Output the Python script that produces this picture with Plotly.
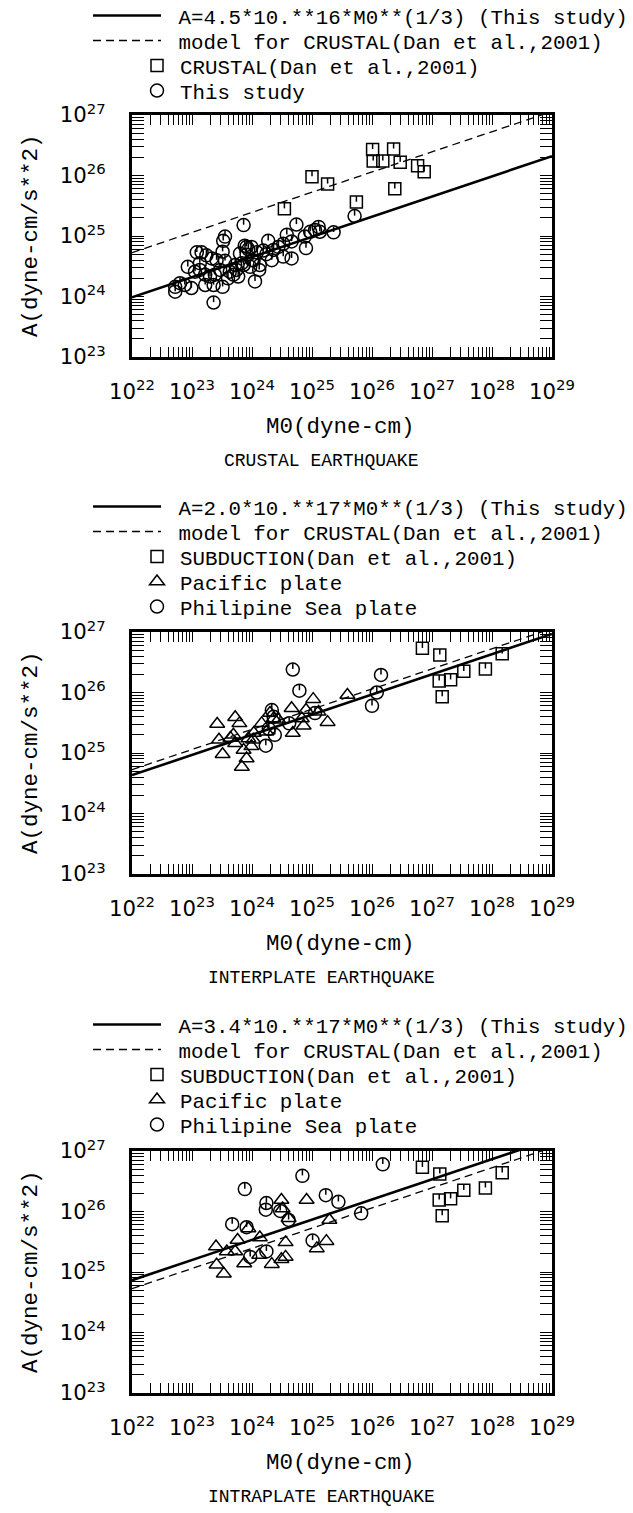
import numpy as np
import plotly.graph_objects as go

W, H = 633, 1513

# ---------------- data (log10 values) ----------------
# Panel 1 : CRUSTAL
crustal_dan_logM = [26.01, 26.36, 26.02, 26.18, 26.47, 26.76, 26.87, 25.00, 25.26, 26.38, 25.74, 24.54]
crustal_dan_logA = [26.43, 26.44, 26.24, 26.24, 26.22, 26.16, 26.06, 25.98, 25.86, 25.78, 25.56, 25.45]

crustal_this_logM = [23.86, 24.74, 25.71, 23.55, 23.52, 24.97, 25.05, 25.11, 25.13, 25.36, 24.58, 24.88,
                     24.27, 24.66, 23.51, 23.08, 23.16, 23.88, 23.94, 23.80, 23.91, 24.08, 24.19, 24.36,
                     24.44, 24.52, 24.24, 24.90, 23.24, 23.99, 22.93, 23.33, 23.41, 23.55, 24.02, 24.33,
                     24.52, 24.66, 23.86, 23.97, 23.83, 24.13, 23.13, 23.72, 23.05, 23.13, 23.22, 23.30,
                     23.38, 23.47, 23.74, 23.69, 23.77, 24.12, 23.63, 22.72, 22.80, 22.72, 22.99, 23.22,
                     23.36, 23.51, 24.05, 22.88, 23.36, 23.91, 24.00, 23.60]
crustal_this_logA = [25.18, 25.19, 25.33, 24.99, 24.92, 25.07, 25.10, 25.15, 25.07, 25.06, 25.02, 24.99,
                     24.92, 24.91, 24.74, 24.73, 24.73, 24.84, 24.78, 24.71, 24.69, 24.73, 24.76, 24.77,
                     24.82, 24.87, 24.70, 24.80, 24.68, 24.82, 24.49, 24.63, 24.60, 24.59, 24.60, 24.60,
                     24.66, 24.63, 24.52, 24.49, 24.55, 24.52, 24.55, 24.52, 24.41, 24.44, 24.36, 24.33,
                     24.36, 24.44, 24.44, 24.36, 24.33, 24.44, 24.41, 24.16, 24.22, 24.08, 24.14, 24.19,
                     24.19, 24.16, 24.25, 24.19, 23.90, 24.82, 24.60, 24.30]

# Subduction data of Dan et al. (2001) (panels 2 and 3)
subd_dan_logM = [26.84, 27.13, 27.12, 27.31, 27.53, 27.89, 27.17, 28.17]
subd_dan_logA = [26.73, 26.62, 26.19, 26.21, 26.35, 26.39, 25.93, 26.64]

# Panel 2 : INTERPLATE
inter_pac_logM = [23.42, 23.45, 23.51, 23.72, 23.79, 23.69, 23.72, 23.83, 23.91, 23.86, 23.94, 23.99,
                  24.03, 24.16, 24.24, 24.30, 24.36, 24.44, 24.66, 24.68, 24.86, 24.83, 24.90, 25.02,
                  25.11, 25.26, 25.59, 24.02, 23.64]
inter_pac_logA = [25.48, 25.22, 24.98, 25.59, 25.49, 25.30, 25.16, 24.77, 24.91, 25.05, 25.24, 25.11,
                  25.33, 25.49, 25.35, 25.66, 25.57, 25.55, 25.74, 25.33, 25.45, 25.57, 25.71, 25.89,
                  25.68, 25.51, 25.96, 25.22, 25.25]
inter_phs_logM = [24.68, 24.79, 26.15, 26.08, 26.00, 24.33, 24.62, 24.38, 24.23, 25.05, 24.36, 24.28]
inter_phs_logA = [26.38, 26.03, 26.29, 26.00, 25.78, 25.71, 25.49, 25.30, 25.12, 25.66, 25.60, 25.40]

# Panel 3 : INTRAPLATE
intra_pac_logM = [23.40, 23.41, 23.53, 23.58, 23.72, 23.76, 23.87, 23.94, 24.13, 24.12, 24.33, 24.49,
                  24.51, 24.61, 24.56, 24.56, 24.49, 24.91, 25.08, 25.24, 25.29]
intra_pac_logA = [25.42, 25.12, 24.97, 25.34, 25.34, 25.53, 25.14, 25.72, 25.57, 25.28, 25.13, 26.19,
                  26.05, 25.89, 25.49, 25.25, 25.21, 26.19, 25.39, 25.51, 25.86]
intra_phs_logM = [26.18, 24.84, 23.88, 25.23, 25.44, 24.24, 24.23, 24.47, 24.61, 23.67, 23.91, 25.82,
                  25.01, 24.24, 23.97]
intra_phs_logA = [26.78, 26.59, 26.37, 26.27, 26.16, 26.14, 26.03, 26.01, 25.86, 25.79, 25.74, 25.97,
                  25.52, 25.34, 25.25]

# Regression lines A = c * M0**(1/3)
coef_this = [4.5e16, 2.0e17, 3.4e17]
coef_dan = 2.46e17
m0_ends = [1e22, 1e29]

line_labels = ["A=4.5*10.**16*M0**(1/3) (This study)",
               "A=2.0*10.**17*M0**(1/3) (This study)",
               "A=3.4*10.**17*M0**(1/3) (This study)"]
dan_line_label = "model for CRUSTAL(Dan et al.,2001)"
captions = ["CRUSTAL EARTHQUAKE", "INTERPLATE EARTHQUAKE", "INTRAPLATE EARTHQUAKE"]
x_title = "M0(dyne-cm)"
y_title = "A(dyne-cm/s**2)"

# ---------------- layout geometry (pixels) ----------------
PX_L, PX_R = 132, 552
panels_px = [(115, 357), (632, 874), (1151, 1393)]   # (top, bottom)
legend_rows = [[16, 41, 66, 91], [507, 532, 557, 582, 607], [1025, 1050, 1075, 1100, 1125]]

MONO = "Liberation Mono"
LEG_FONT = dict(family=MONO, size=20.8, color="black")


def pow10(v):
    return [10.0 ** x for x in v]


fig = go.Figure()
layout_legends = {}
leg_count = [0]


def new_legend(row_px, kind):
    leg_count[0] += 1
    name = "legend" if leg_count[0] == 1 else f"legend{leg_count[0]}"
    if kind == "line":
        x_px, iw = 88, 68
    else:
        x_px, iw = 134, 36
    layout_legends[name] = dict(
        x=x_px / W, y=1 - row_px / H, xanchor="left", yanchor="middle",
        xref="container", yref="container",
        itemwidth=iw, bgcolor="rgba(0,0,0,0)", borderwidth=0,
        font=LEG_FONT, itemclick=False, itemdoubleclick=False,
        tracegroupgap=0,
    )
    return name


def add_line(p, coef, label, dash, width, row):
    ax = "" if p == 0 else str(p + 1)
    fig.add_trace(go.Scatter(
        x=m0_ends, y=[coef * m ** (1.0 / 3.0) for m in m0_ends],
        mode="lines", line=dict(color="black", width=width, dash=dash),
        name="\u00a0" + label, legend=new_legend(row, "line"),
        xaxis="x" + ax, yaxis="y" + ax, showlegend=True, hoverinfo="skip"))


def add_pts(p, lm, la, symbol, size, label, row, notch=True):
    ax = "" if p == 0 else str(p + 1)
    fig.add_trace(go.Scatter(
        x=pow10(lm), y=pow10(la), mode="markers",
        marker=dict(symbol=symbol, size=size, color="black",
                    line=dict(color="black", width=1.5)),
        name=label, legend=new_legend(row, "marker"),
        xaxis="x" + ax, yaxis="y" + ax, showlegend=True, cliponaxis=True))
    if notch:
        # small orientation tick at the top inside the symbol (as in the original plot)
        fig.add_trace(go.Scatter(
            x=pow10(lm), y=pow10(la), mode="markers",
            marker=dict(symbol="line-ns", size=4, color="black", angle=180, standoff=3.2,
                        line=dict(color="black", width=1.5)),
            xaxis="x" + ax, yaxis="y" + ax, showlegend=False, hoverinfo="skip", cliponaxis=True))


# Panel 1
add_line(0, coef_this[0], line_labels[0], "solid", 2.6, legend_rows[0][0])
add_line(0, coef_dan, dan_line_label, "8px,5px", 1.3, legend_rows[0][1])
add_pts(0, crustal_dan_logM, crustal_dan_logA, "square-open", 12, "CRUSTAL(Dan et al.,2001)", legend_rows[0][2])
add_pts(0, crustal_this_logM, crustal_this_logA, "circle-open", 13, "This study", legend_rows[0][3])

# Panel 2 and 3
for p, pac_m, pac_a, phs_m, phs_a in [(1, inter_pac_logM, inter_pac_logA, inter_phs_logM, inter_phs_logA),
                                      (2, intra_pac_logM, intra_pac_logA, intra_phs_logM, intra_phs_logA)]:
    rows = legend_rows[p]
    add_line(p, coef_this[p], line_labels[p], "solid", 2.6, rows[0])
    add_line(p, coef_dan, dan_line_label, "8px,5px", 1.3, rows[1])
    add_pts(p, subd_dan_logM, subd_dan_logA, "square-open", 12, "SUBDUCTION(Dan et al.,2001)", rows[2])
    add_pts(p, pac_m, pac_a, "triangle-up-open", 13, "Pacific plate", rows[3], notch=False)
    add_pts(p, phs_m, phs_a, "circle-open", 13, "Philipine Sea plate", rows[4])

axis_common = dict(
    type="log", showline=True, linewidth=3, linecolor="black", mirror="ticks",
    ticks="inside", tickwidth=1.2, tickcolor="black", dtick=1, tickangle=0,
    exponentformat="power", showexponent="all", showgrid=False, zeroline=False,
    automargin=False,
    tickfont=dict(family="DejaVu Sans", size=17, color="black"),
)

annotations = []
for i, (top, bot) in enumerate(panels_px):
    ax = "" if i == 0 else str(i + 1)
    xa = dict(axis_common)
    xa.update(range=[22, 29], domain=[PX_L / W, PX_R / W], anchor="y" + ax,
              ticklen=10, ticklabelstandoff=14,
              minor=dict(ticks="inside", ticklen=10, tickwidth=1.2, tickcolor="black",
                         dtick="D1", showgrid=False))
    ya = dict(axis_common)
    ya.update(range=[23, 27], domain=[1 - bot / H, 1 - top / H], anchor="x" + ax,
              ticklen=12, ticklabelstandoff=20,
              minor=dict(ticks="inside", ticklen=12, tickwidth=1.2, tickcolor="black",
                         dtick="D1", showgrid=False))
    fig.update_layout({"xaxis" + ax: xa, "yaxis" + ax: ya})

    annotations.append(dict(text=x_title, x=340 / W, y=1 - (bot + 70) / H, xref="paper", yref="paper",
                            xanchor="center", yanchor="middle", showarrow=False,
                            font=dict(family=MONO, size=22.5, color="black")))
    annotations.append(dict(text=captions[i], x=321 / W, y=1 - (bot + 104) / H, xref="paper", yref="paper",
                            xanchor="center", yanchor="middle", showarrow=False,
                            font=dict(family=MONO, size=18, color="black")))
    annotations.append(dict(text=y_title, x=31 / W, y=1 - (top + bot) / 2 / H, xref="paper", yref="paper",
                            xanchor="center", yanchor="middle", showarrow=False, textangle=-90,
                            font=dict(family=MONO, size=22.5, color="black")))

fig.update_layout(
    width=W, height=H, margin=dict(l=0, r=0, t=0, b=0, autoexpand=False),
    paper_bgcolor="white", plot_bgcolor="white",
    annotations=annotations, **layout_legends,
)

fig.write_html("out.html", config={"displayModeBar": False})
